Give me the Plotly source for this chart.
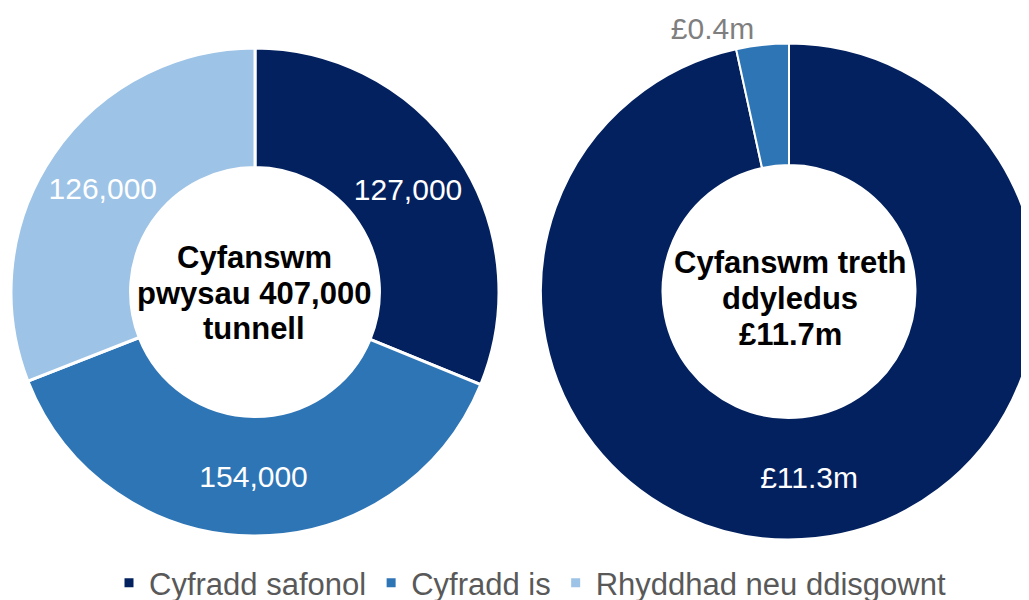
import plotly.graph_objects as go

W, H = 1029, 600
OFF = 8  # page body margin: figure is drawn 8px right/down of the viewport origin

categories = ["Cyfradd safonol", "Cyfradd is", "Rhyddhad neu ddisgownt"]
colors = ["#03215F", "#2E75B6", "#9DC3E6"]

tonnage_values = [127000, 154000, 126000]
tax_labels = ["Cyfradd safonol", "Cyfradd is"]
tax_values = [11.3, 0.4]

left_centre_lines = ["Cyfanswm", "pwysau 407,000", "tunnell"]
right_centre_lines = ["Cyfanswm treth", "ddyledus", "£11.7m"]

FONT = "Liberation Sans, Arial, sans-serif"


def px(x):
    return (x - OFF) / W


def py(y):
    return 1 - (y - OFF) / H


def dom(cx, cy, r):
    return dict(x=[max(0.0, px(cx - r)), min(1.0, px(cx + r))],
                y=[max(0.0, py(cy + r)), min(1.0, py(cy - r))])


fig = go.Figure()

fig.add_trace(go.Pie(
    labels=categories, values=tonnage_values,
    marker=dict(colors=colors, line=dict(color="white", width=3)),
    hole=0.51, sort=False, direction="clockwise", rotation=0,
    domain=dom(255, 292, 244),
    texttemplate="%{value:,}", textposition="inside",
    insidetextorientation="horizontal",
    insidetextfont=dict(color="white", size=30, family=FONT),
    hoverinfo="skip",
))

fig.add_trace(go.Pie(
    labels=tax_labels, values=tax_values,
    marker=dict(colors=colors[:2], line=dict(color="white", width=2)),
    hole=0.51, sort=False, direction="clockwise", rotation=0,
    domain=dom(789, 291.5, 248),
    texttemplate="£%{value:.1f}m", textposition=["inside", "outside"],
    insidetextorientation="horizontal",
    insidetextfont=dict(color="white", size=30, family=FONT),
    outsidetextfont=dict(color="#7F7F7F", size=30, family=FONT),
    hoverinfo="skip", showlegend=False,
))

annotations = []
for cx, ys, lines in [(254, [257.5, 293, 328.5], left_centre_lines),
                      (790, [262.5, 298.5, 334.5], right_centre_lines)]:
    for yy, txt in zip(ys, lines):
        annotations.append(dict(
            x=px(cx), y=py(yy), xref="paper", yref="paper",
            text="<b>" + txt + "</b>", showarrow=False,
            xanchor="center", yanchor="middle",
            font=dict(size=31, color="black", family=FONT),
        ))

fig.update_layout(
    width=W, height=H,
    margin=dict(l=0, r=0, t=0, b=0, autoexpand=False),
    paper_bgcolor="white", plot_bgcolor="white",
    font=dict(family=FONT),
    annotations=annotations,
    legend=dict(orientation="h", x=px(530), xanchor="center",
                y=py(583), yanchor="middle",
                font=dict(size=31, color="#595959", family=FONT),
                traceorder="normal"),
)

fig.write_html("out.html")
